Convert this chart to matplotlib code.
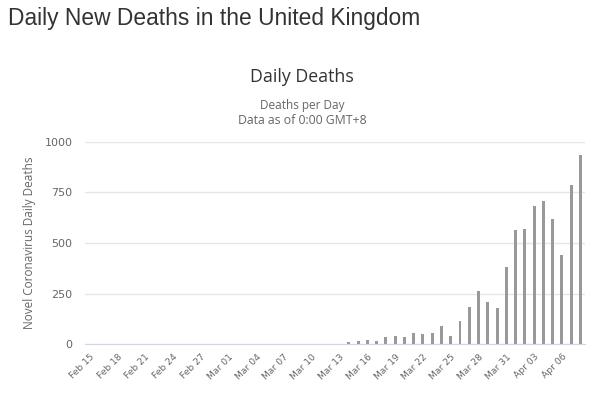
import datetime as dt
import matplotlib
matplotlib.use("Agg")
import matplotlib.pyplot as plt

# daily deaths, Feb 15 .. Apr 08 (zeros until Mar 13)
start = dt.date(2020, 2, 15)
deaths = [0] * 28 + [
    10, 14, 20, 16, 33, 40, 33, 56, 48, 54, 87, 41, 115, 181,
    260, 209, 180, 381, 563, 569, 684, 708, 621, 439, 786, 938,
]
dates = [start + dt.timedelta(days=i) for i in range(len(deaths))]
labels = [d.strftime("%b %d") for d in dates]
yticks = [0, 250, 500, 750, 1000]

fig = plt.figure(figsize=(5.99, 3.93), dpi=100)
ax = fig.add_axes([85 / 599, 1 - 344 / 393, 500 / 599, 202 / 393])

x = range(len(deaths))
ax.bar(x, deaths, width=0.32, color="#999999", zorder=3)

ax.set_xlim(-0.5, len(deaths) - 0.5)
ax.set_ylim(0, 1000)
ax.set_yticks(yticks)
ax.set_yticklabels([str(v) for v in yticks], fontsize=8, color="#666666",
                   family="DejaVu Sans")
ax.set_xticks(list(x)[::3])
ax.set_xticklabels(labels[::3], rotation=45, ha="right", rotation_mode="anchor",
                   fontsize=6.6, color="#666666", family="DejaVu Sans")
ax.tick_params(axis="both", length=0)
ax.tick_params(axis="y", pad=9)
ax.tick_params(axis="x", pad=6)

ax.grid(axis="y", color="#e6e6e6", linewidth=1, zorder=0)
for s in ["top", "right", "left"]:
    ax.spines[s].set_visible(False)
ax.spines["bottom"].set_color("#ccd6eb")
ax.spines["bottom"].set_zorder(4)

ax.set_ylabel("Novel Coronavirus Daily Deaths", fontsize=8.5, color="#666666",
              family="Open Sans")
ax.yaxis.set_label_coords(-0.097, 0.5)

fig.text(8 / 599, 1 - 19 / 393, "Daily New Deaths in the United Kingdom",
         fontsize=16.4, color="#333333", family="Liberation Sans", va="center")
fig.text(302 / 599, 1 - 77 / 393, "Daily Deaths", fontsize=12.8, color="#333333",
         family="Open Sans", ha="center", va="center")
fig.text(302 / 599, 1 - 105 / 393, "Deaths per Day", fontsize=8.5,
         color="#666666", family="Open Sans", ha="center", va="center")
fig.text(302 / 599, 1 - 121 / 393, "Data as of 0:00 GMT+8", fontsize=8.8,
         color="#666666", family="Open Sans", ha="center", va="center")

fig.savefig("out.png", dpi=100)
